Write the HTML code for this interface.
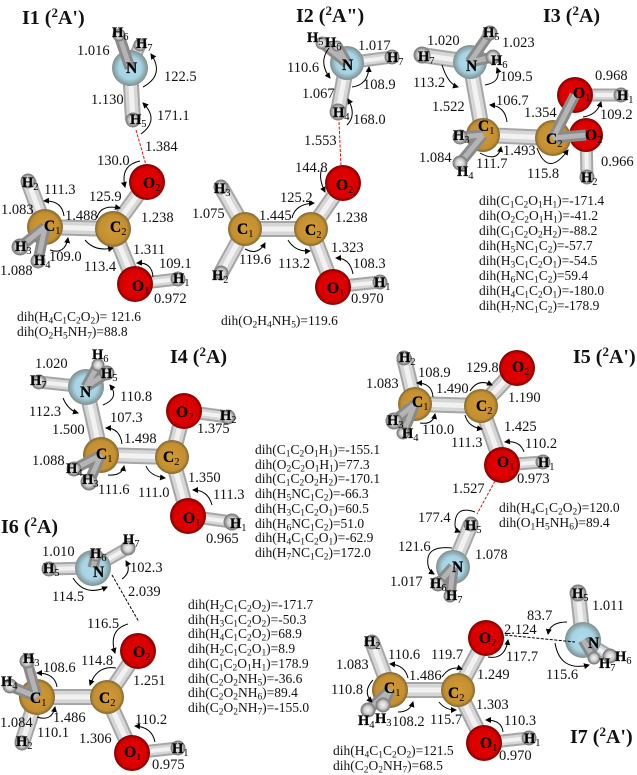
<!DOCTYPE html>
<html><head><meta charset="utf-8">
<style>
html,body{margin:0;padding:0;background:#fff}
#w{position:relative;width:637px;height:775px;overflow:hidden;background:#fff}
svg{position:absolute;left:0;top:0}
text{font-family:"Liberation Serif",serif;fill:#111}
.n text{font-size:14.5px}
.l text{font-size:15.5px;font-weight:bold;fill:#000;stroke:#000;stroke-width:.25px}
.l text.h{font-size:14.5px}
.s{font-size:10.5px;font-weight:normal;stroke-width:0}
.t text{font-size:20px;font-weight:bold}
.u{font-size:13px}
.d{position:absolute;font:13.5px/14.7px "Liberation Serif",serif;color:#111;white-space:pre}
.d sub{font-size:.7em;vertical-align:-.28em;line-height:0}
</style></head><body><div id="w">
<svg width="637" height="775" viewBox="0 0 637 775" xmlns="http://www.w3.org/2000/svg">
<defs>
<radialGradient id="c"><stop offset="0" stop-color="#d09a36"/><stop offset=".8" stop-color="#c48f30"/><stop offset="1" stop-color="#806732"/></radialGradient>
<radialGradient id="o"><stop offset="0" stop-color="#e80000"/><stop offset=".8" stop-color="#d80000"/><stop offset="1" stop-color="#7a0000"/></radialGradient>
<radialGradient id="a"><stop offset="0" stop-color="#aedcec"/><stop offset=".62" stop-color="#a6d4e4"/><stop offset="1" stop-color="#7f8e8e"/></radialGradient>
<radialGradient id="x"><stop offset="0" stop-color="#f4f4f4"/><stop offset=".55" stop-color="#cfcfcf"/><stop offset="1" stop-color="#777"/></radialGradient>
<marker id="m" markerWidth="6" markerHeight="6" refX="5" refY="3" orient="auto"><path d="M0 0L6 3L0 6z" fill="#000"/></marker>
<path id="hb" fill="none" d="M130 68L133 120M45 227L113 229M113 229L147 182M113 229L135 284M45 227L28 181M347 63L338 112M245 229L311 229M311 229L343 183M311 229L333 287M245 229L221 187M245 229L221 273M470 62L483 135M483 135L553 138M470 62L422 55M86 387L101 455M101 455L172 457M172 457L184 411M172 457L188 516M415 404L481 406M481 406L517 368M481 406L502 465M415 404L404 358M471 524L453 567M37 697L107 697M107 697L138 651M107 697L132 753M37 697L22 743M390 690L458 690M458 690L486 638M458 690L484 743M390 690L372 642M583 640L578 593"/>
<path id="lb" fill="none" d="M135 284L178 279M130 68L140 45M347 63L392 57M333 287L380 282M575 95L621 95M586 135L587 177M86 387L39 382M184 411L228 417M188 516L232 522M502 465L543 462M93 568L49 569M132 753L178 748M93 568L128 548M484 743L529 738M583 640L610 656"/>
<path id="fb" fill="none" d="M130 68L119 35M45 227L20 247M45 227L38 261M347 63L322 43M347 63L337 46M470 62L490 33M470 62L493 57M483 135L460 137M483 135L460 163M553 138L575 95M553 138L586 135M86 387L98 365M86 387L107 373M101 455L74 469M101 455L89 482M415 404L394 421M415 404L403 433M453 567L438 584M453 567L450 596M93 568L96 555M37 697L27 661M37 697L10 686M390 690L383 705M390 690L368 710M583 640L594 658"/>
</defs>

<use href="#hb" stroke="#a6a6a6" stroke-width="16"/><use href="#hb" stroke="#d6d6d6" stroke-width="12"/><use href="#hb" stroke="#f2f2f2" stroke-width="5"/>
<use href="#lb" stroke="#a6a6a6" stroke-width="13"/><use href="#lb" stroke="#d6d6d6" stroke-width="9"/><use href="#lb" stroke="#f2f2f2" stroke-width="4"/>

<g id="big">
<circle cx="130" cy="68" r="18" fill="url(#a)"/><circle cx="147" cy="182" r="18" fill="url(#o)"/><circle cx="113" cy="229" r="18" fill="url(#c)"/><circle cx="45" cy="227" r="18" fill="url(#c)"/><circle cx="135" cy="284" r="18" fill="url(#o)"/>
<circle cx="347" cy="63" r="17" fill="url(#a)"/><circle cx="343" cy="183" r="18" fill="url(#o)"/><circle cx="311" cy="229" r="17" fill="url(#c)"/><circle cx="245" cy="229" r="17" fill="url(#c)"/><circle cx="333" cy="287" r="18" fill="url(#o)"/>
<circle cx="470" cy="62" r="17" fill="url(#a)"/><circle cx="483" cy="135" r="17" fill="url(#c)"/><circle cx="586" cy="135" r="17" fill="url(#o)"/><circle cx="553" cy="138" r="18" fill="url(#c)"/><circle cx="575" cy="95" r="18" fill="url(#o)"/>
<circle cx="86" cy="387" r="18" fill="url(#a)"/><circle cx="101" cy="455" r="18" fill="url(#c)"/><circle cx="184" cy="411" r="18" fill="url(#o)"/><circle cx="172" cy="457" r="17" fill="url(#c)"/><circle cx="188" cy="516" r="18" fill="url(#o)"/>
<circle cx="415" cy="404" r="17" fill="url(#c)"/><circle cx="481" cy="406" r="17" fill="url(#c)"/><circle cx="517" cy="368" r="18" fill="url(#o)"/><circle cx="502" cy="465" r="18" fill="url(#o)"/><circle cx="453" cy="567" r="17" fill="url(#a)"/>
<circle cx="93" cy="568" r="18" fill="url(#a)"/><circle cx="138" cy="651" r="18" fill="url(#o)"/><circle cx="107" cy="697" r="17" fill="url(#c)"/><circle cx="37" cy="697" r="18" fill="url(#c)"/><circle cx="132" cy="753" r="18" fill="url(#o)"/>
<circle cx="390" cy="690" r="18" fill="url(#c)"/><circle cx="458" cy="690" r="17" fill="url(#c)"/><circle cx="486" cy="638" r="18" fill="url(#o)"/><circle cx="484" cy="743" r="18" fill="url(#o)"/><circle cx="583" cy="640" r="18" fill="url(#a)"/>
</g>

<use href="#fb" stroke="#8a8a8a" stroke-width="11"/><use href="#fb" stroke="#b4b4b4" stroke-width="5"/>

<g id="hyd" fill="url(#x)" stroke="#808080" stroke-width="1">
<circle cx="119" cy="35" r="6"/><circle cx="140" cy="45" r="6"/><circle cx="133" cy="120" r="7"/><circle cx="28" cy="181" r="7"/><circle cx="38" cy="261" r="7"/><circle cx="20" cy="247" r="8"/><circle cx="178" cy="279" r="7"/>
<circle cx="322" cy="43" r="6"/><circle cx="337" cy="46" r="5"/><circle cx="392" cy="57" r="7"/><circle cx="338" cy="112" r="8"/><circle cx="221" cy="187" r="7"/><circle cx="221" cy="273" r="7"/><circle cx="380" cy="282" r="7"/>
<circle cx="490" cy="33" r="7"/><circle cx="493" cy="57" r="7"/><circle cx="422" cy="55" r="8"/><circle cx="460" cy="137" r="7"/><circle cx="460" cy="163" r="7"/><circle cx="621" cy="95" r="7"/><circle cx="587" cy="177" r="7"/>
<circle cx="98" cy="365" r="6"/><circle cx="107" cy="373" r="7"/><circle cx="39" cy="382" r="7"/><circle cx="74" cy="469" r="7"/><circle cx="89" cy="482" r="8"/><circle cx="228" cy="417" r="7"/><circle cx="232" cy="522" r="8"/>
<circle cx="404" cy="358" r="7"/><circle cx="403" cy="433" r="6"/><circle cx="394" cy="421" r="8"/><circle cx="543" cy="462" r="7"/><circle cx="471" cy="524" r="7"/><circle cx="450" cy="596" r="6"/><circle cx="438" cy="584" r="7"/>
<circle cx="96" cy="555" r="6"/><circle cx="128" cy="548" r="7"/><circle cx="49" cy="569" r="7"/><circle cx="27" cy="661" r="7"/><circle cx="10" cy="686" r="7"/><circle cx="22" cy="743" r="7"/><circle cx="178" cy="748" r="7"/>
<circle cx="372" cy="642" r="7"/><circle cx="368" cy="710" r="7"/><circle cx="383" cy="705" r="7"/><circle cx="529" cy="738" r="7"/><circle cx="578" cy="593" r="8"/><circle cx="610" cy="656" r="7"/><circle cx="594" cy="658" r="6"/>
</g>

<g fill="none" stroke-width="1" stroke-dasharray="3 1.5">
<path stroke="#e01010" d="M136 130L146 165M339 122L341 166M495 481L477 514"/>
<path stroke="#000" d="M112 575L139 622M505 635L575 642"/>
</g>

<g fill="none" stroke="#000" stroke-width="1" marker-end="url(#m)">
<path d="M143 87Q165 75 151 54" marker-end="url(#m)"/><path d="M141 134Q160 120 143 103" marker-end="url(#m)"/><path d="M140 161Q120 165 125 187" marker-end="url(#m)"/><path d="M64 216Q62 200 44 201" marker-end="url(#m)"/><path d="M97 218Q100 204 120 208"/><path d="M50 250Q65 255 68 238" marker-end="url(#m)"/><path d="M85 240Q95 252 113 248" marker-end="url(#m)"/><path d="M153 277Q152 262 137 263" marker-end="url(#m)"/>
<path d="M329 48Q318 62 330 78" marker-end="url(#m)"/><path d="M352 87Q368 85 369 67" marker-end="url(#m)"/><path d="M347 125Q357 115 348 99" marker-end="url(#m)"/><path d="M322 168Q318 178 325 192" marker-end="url(#m)"/><path d="M292 218Q295 204 314 203"/><path d="M245 249Q258 256 265 243" marker-end="url(#m)"/><path d="M288 240Q295 252 310 251" marker-end="url(#m)"/><path d="M353 274Q350 258 336 258" marker-end="url(#m)"/>
<path d="M442 65Q448 84 458 87" marker-end="url(#m)"/><path d="M485 85Q502 82 497 68" marker-end="url(#m)"/><path d="M507 122Q505 106 490 105" marker-end="url(#m)"/><path d="M583 117Q597 115 601 102" marker-end="url(#m)"/><path d="M480 153Q498 163 501 147" marker-end="url(#m)"/><path d="M537 148Q548 178 568 150" marker-end="url(#m)"/>
<path d="M63 398Q68 410 78 413" marker-end="url(#m)"/><path d="M103 405Q120 398 110 385" marker-end="url(#m)"/><path d="M122 444Q120 428 106 428" marker-end="url(#m)"/><path d="M108 475Q122 476 124 466" marker-end="url(#m)"/><path d="M146 466Q150 476 165 478" marker-end="url(#m)"/><path d="M212 505Q208 490 193 490" marker-end="url(#m)"/>
<path d="M470 391Q478 378 492 385"/><path d="M433 397Q432 383 417 383" marker-end="url(#m)"/><path d="M420 423Q433 425 435 414" marker-end="url(#m)"/><path d="M465 415Q468 427 482 429" marker-end="url(#m)"/><path d="M524 452Q520 440 505 442" marker-end="url(#m)"/><path d="M475 512Q455 505 455 525Q455 530 460 532" marker-end="url(#m)"/><path d="M452 548Q425 545 428 565Q429 571 434 574" marker-end="url(#m)"/>
<path d="M122 579Q132 572 126 561" marker-end="url(#m)"/><path d="M73 578Q85 597 107 587" marker-end="url(#m)"/><path d="M128 624Q108 630 115 653" marker-end="url(#m)"/><path d="M116 668Q97 665 90 685" marker-end="url(#m)"/><path d="M57 687Q55 673 37 673" marker-end="url(#m)"/><path d="M37 717Q52 722 55 707" marker-end="url(#m)"/><path d="M155 742Q152 727 135 726" marker-end="url(#m)"/>
<path d="M567 622Q550 622 548 634" marker-end="url(#m)"/><path d="M488 657Q505 660 508 640" marker-end="url(#m)"/><path d="M555 643Q560 672 589 665" marker-end="url(#m)"/><path d="M442 677Q450 665 462 669"/><path d="M408 678Q405 665 390 664" marker-end="url(#m)"/><path d="M373 680Q362 692 372 702" marker-end="url(#m)"/><path d="M398 712Q410 712 413 702" marker-end="url(#m)"/><path d="M439 702Q445 710 456 710" marker-end="url(#m)"/><path d="M503 732Q502 720 486 720" marker-end="url(#m)"/>
</g>

<g class="l">
<text class="h" x="112" y="37">H<tspan class="s" dy="3">6</tspan></text><text class="h" x="136" y="48">H<tspan class="s" dy="3">7</tspan></text><text x="126" y="73">N</text><text class="h" x="130" y="124">H<tspan class="s" dy="3">5</tspan></text><text x="143" y="188">O<tspan class="s" dy="3">2</tspan></text><text x="110" y="232">C<tspan class="s" dy="3">2</tspan></text><text x="44" y="231">C<tspan class="s" dy="3">1</tspan></text><text class="h" x="22" y="187">H<tspan class="s" dy="3">2</tspan></text><text class="h" x="15" y="251">H<tspan class="s" dy="3">3</tspan></text><text class="h" x="34" y="265">H<tspan class="s" dy="3">4</tspan></text><text x="132" y="291">O<tspan class="s" dy="3">1</tspan></text><text class="h" x="173" y="283">H<tspan class="s" dy="3">1</tspan></text>
<text class="h" x="307" y="42">H<tspan class="s" dy="3">5</tspan></text><text class="h" x="325" y="47">H<tspan class="s" dy="3">6</tspan></text><text x="342" y="70">N</text><text class="h" x="387" y="62">H<tspan class="s" dy="3">7</tspan></text><text class="h" x="333" y="117">H<tspan class="s" dy="3">4</tspan></text><text x="336" y="190">O<tspan class="s" dy="3">2</tspan></text><text x="305" y="235">C<tspan class="s" dy="3">2</tspan></text><text x="237" y="234">C<tspan class="s" dy="3">1</tspan></text><text class="h" x="214" y="193">H<tspan class="s" dy="3">3</tspan></text><text class="h" x="212" y="280">H<tspan class="s" dy="3">2</tspan></text><text x="327" y="293">O<tspan class="s" dy="3">1</tspan></text><text class="h" x="374" y="287">H<tspan class="s" dy="3">1</tspan></text>
<text class="h" x="483" y="37">H<tspan class="s" dy="3">5</tspan></text><text class="h" x="491" y="65">H<tspan class="s" dy="3">6</tspan></text><text class="h" x="418" y="61">H<tspan class="s" dy="3">7</tspan></text><text x="466" y="71">N</text><text x="478" y="131">C<tspan class="s" dy="3">1</tspan></text><text class="h" x="453" y="140">H<tspan class="s" dy="3">3</tspan></text><text class="h" x="457" y="176">H<tspan class="s" dy="3">4</tspan></text><text x="546" y="144">C<tspan class="s" dy="3">2</tspan></text><text x="573" y="98">O<tspan class="s" dy="3">1</tspan></text><text class="h" x="617" y="100">H<tspan class="s" dy="3">1</tspan></text><text x="585" y="140">O<tspan class="s" dy="3">2</tspan></text><text class="h" x="581" y="182">H<tspan class="s" dy="3">2</tspan></text>
<text class="h" x="92" y="359">H<tspan class="s" dy="3">6</tspan></text><text class="h" x="101" y="378">H<tspan class="s" dy="3">5</tspan></text><text class="h" x="30" y="385">H<tspan class="s" dy="3">7</tspan></text><text x="80" y="397">N</text><text x="96" y="459">C<tspan class="s" dy="3">1</tspan></text><text class="h" x="66" y="473">H<tspan class="s" dy="3">4</tspan></text><text class="h" x="82" y="484">H<tspan class="s" dy="3">3</tspan></text><text x="163" y="462">C<tspan class="s" dy="3">2</tspan></text><text x="176" y="417">O<tspan class="s" dy="3">2</tspan></text><text class="h" x="220" y="420">H<tspan class="s" dy="3">2</tspan></text><text x="183" y="523">O<tspan class="s" dy="3">1</tspan></text><text class="h" x="230" y="528">H<tspan class="s" dy="3">1</tspan></text>
<text class="h" x="399" y="362">H<tspan class="s" dy="3">2</tspan></text><text x="412" y="407">C<tspan class="s" dy="3">1</tspan></text><text x="476" y="411">C<tspan class="s" dy="3">2</tspan></text><text x="512" y="372">O<tspan class="s" dy="3">2</tspan></text><text class="h" x="387" y="425">H<tspan class="s" dy="3">3</tspan></text><text class="h" x="402" y="438">H<tspan class="s" dy="3">4</tspan></text><text x="497" y="467">O<tspan class="s" dy="3">1</tspan></text><text class="h" x="538" y="467">H<tspan class="s" dy="3">1</tspan></text><text class="h" x="465" y="530">H<tspan class="s" dy="3">5</tspan></text><text x="452" y="572">N</text><text class="h" x="430" y="588">H<tspan class="s" dy="3">6</tspan></text><text class="h" x="446" y="600">H<tspan class="s" dy="3">7</tspan></text>
<text class="h" x="123" y="544">H<tspan class="s" dy="3">7</tspan></text><text class="h" x="90" y="558">H<tspan class="s" dy="3">6</tspan></text><text class="h" x="43" y="573">H<tspan class="s" dy="3">5</tspan></text><text x="93" y="577">N</text><text x="133" y="657">O<tspan class="s" dy="3">2</tspan></text><text x="99" y="703">C<tspan class="s" dy="3">2</tspan></text><text x="30" y="703">C<tspan class="s" dy="3">1</tspan></text><text class="h" x="23" y="663">H<tspan class="s" dy="3">3</tspan></text><text class="h" x="1" y="686">H<tspan class="s" dy="3">4</tspan></text><text class="h" x="16" y="746">H<tspan class="s" dy="3">2</tspan></text><text x="124" y="757">O<tspan class="s" dy="3">1</tspan></text><text class="h" x="172" y="753">H<tspan class="s" dy="3">1</tspan></text>
<text class="h" x="364" y="646">H<tspan class="s" dy="3">2</tspan></text><text class="h" x="572" y="598">H<tspan class="s" dy="3">5</tspan></text><text x="479" y="643">O<tspan class="s" dy="3">2</tspan></text><text x="588" y="648">N</text><text class="h" x="615" y="661">H<tspan class="s" dy="3">6</tspan></text><text class="h" x="599" y="668">H<tspan class="s" dy="3">7</tspan></text><text x="384" y="693">C<tspan class="s" dy="3">1</tspan></text><text x="448" y="698">C<tspan class="s" dy="3">2</tspan></text><text class="h" x="358" y="725">H<tspan class="s" dy="3">4</tspan></text><text class="h" x="375" y="723">H<tspan class="s" dy="3">3</tspan></text><text x="480" y="748">O<tspan class="s" dy="3">1</tspan></text><text class="h" x="524" y="743">H<tspan class="s" dy="3">1</tspan></text>
</g>

<g class="n">
<text x="77" y="55">1.016</text><text x="164" y="81">122.5</text><text x="91" y="104">1.130</text><text x="157" y="120">171.1</text><text x="145" y="151">1.384</text><text x="97" y="165">130.0</text><text x="44" y="194">111.3</text><text x="89" y="201">125.9</text><text x="1" y="214">1.083</text><text x="65" y="220">1.488</text><text x="141" y="222">1.238</text><text x="133" y="254">1.311</text><text x="49" y="261">109.0</text><text x="159" y="268">109.1</text><text x="84" y="271">113.4</text><text x="0" y="275">1.088</text><text x="154" y="303">0.972</text>
<text x="358" y="50">1.017</text><text x="287" y="72">110.6</text><text x="363" y="89">108.9</text><text x="302" y="98">1.067</text><text x="353" y="124">168.0</text><text x="304" y="145">1.553</text><text x="295" y="172">144.8</text><text x="280" y="202">125.2</text><text x="259" y="220">1.445</text><text x="335" y="222">1.238</text><text x="192" y="218">1.075</text><text x="239" y="264">119.6</text><text x="278" y="268">113.2</text><text x="331" y="252">1.323</text><text x="353" y="268">108.3</text><text x="351" y="303">0.970</text>
<text x="427" y="45">1.020</text><text x="502" y="47">1.023</text><text x="595" y="80">0.968</text><text x="500" y="81">109.5</text><text x="413" y="87">113.2</text><text x="496" y="105">106.7</text><text x="432" y="111">1.522</text><text x="524" y="117">1.354</text><text x="600" y="119">109.2</text><text x="503" y="155">1.493</text><text x="419" y="162">1.084</text><text x="601" y="166">0.966</text><text x="476" y="168">111.7</text><text x="527" y="178">115.8</text>
<text x="35" y="368">1.020</text><text x="120" y="401">110.8</text><text x="29" y="416">112.3</text><text x="110" y="422">107.3</text><text x="197" y="433">1.375</text><text x="52" y="434">1.500</text><text x="124" y="443">1.498</text><text x="32" y="465">1.088</text><text x="188" y="482">1.350</text><text x="213" y="499">111.3</text><text x="98" y="494">111.6</text><text x="138" y="497">111.0</text><text x="206" y="543">0.965</text>
<text x="466" y="372">129.8</text><text x="418" y="377">108.9</text><text x="366" y="388">1.083</text><text x="436" y="393">1.490</text><text x="508" y="402">1.190</text><text x="504" y="431">1.425</text><text x="422" y="434">110.0</text><text x="451" y="447">111.3</text><text x="525" y="448">110.2</text><text x="517" y="483">0.973</text><text x="452" y="493">1.527</text><text x="418" y="522">177.4</text><text x="398" y="551">121.6</text><text x="475" y="559">1.078</text><text x="390" y="586">1.017</text>
<text x="42" y="556">1.010</text><text x="130" y="572">102.3</text><text x="128" y="596">2.039</text><text x="52" y="601">114.5</text><text x="87" y="628">116.5</text><text x="81" y="665">114.8</text><text x="43" y="672">108.6</text><text x="133" y="685">1.251</text><text x="53" y="722">1.486</text><text x="0" y="727">1.084</text><text x="135" y="724">110.2</text><text x="37" y="737">110.1</text><text x="79" y="743">1.306</text><text x="152" y="769">0.975</text>
<text x="592" y="610">1.011</text><text x="527" y="620">83.7</text><text x="504" y="634">2.124</text><text x="506" y="661">117.7</text><text x="431" y="659">119.7</text><text x="388" y="659">110.6</text><text x="336" y="669">1.083</text><text x="546" y="679">115.6</text><text x="409" y="680">1.486</text><text x="477" y="679">1.249</text><text x="331" y="694">110.8</text><text x="476" y="709">1.303</text><text x="392" y="726">108.2</text><text x="430" y="724">115.7</text><text x="504" y="725">110.3</text><text x="499" y="760">0.970</text>
</g>

<g class="t">
<text x="22" y="24">I1 (<tspan class="u" dy="-7">2</tspan><tspan dy="7">A')</tspan></text>
<text x="296" y="22">I2 (<tspan class="u" dy="-7">2</tspan><tspan dy="7">A")</tspan></text>
<text x="543" y="22">I3 (<tspan class="u" dy="-7">2</tspan><tspan dy="7">A)</tspan></text>
<text x="170" y="363">I4 (<tspan class="u" dy="-7">2</tspan><tspan dy="7">A)</tspan></text>
<text x="573" y="363">I5 (<tspan class="u" dy="-7">2</tspan><tspan dy="7">A')</tspan></text>
<text x="1" y="533">I6 (<tspan class="u" dy="-7">2</tspan><tspan dy="7">A)</tspan></text>
<text x="570" y="743">I7 (<tspan class="u" dy="-7">2</tspan><tspan dy="7">A')</tspan></text>
</g>
</svg>

<div class="d" style="left:17px;top:310px">dih(H<sub>4</sub>C<sub>1</sub>C<sub>2</sub>O<sub>2</sub>)= 121.6
dih(O<sub>2</sub>H<sub>5</sub>NH<sub>7</sub>)=88.8</div>
<div class="d" style="left:221px;top:314px">dih(O<sub>2</sub>H<sub>4</sub>NH<sub>5</sub>)=119.6</div>
<div class="d" style="left:479px;top:193px;line-height:15px">dih(C<sub>1</sub>C<sub>2</sub>O<sub>1</sub>H<sub>1</sub>)=-171.4
dih(O<sub>2</sub>C<sub>2</sub>O<sub>1</sub>H<sub>1</sub>)=-41.2
dih(C<sub>1</sub>C<sub>2</sub>O<sub>2</sub>H<sub>2</sub>)=-88.2
dih(H<sub>5</sub>NC<sub>1</sub>C<sub>2</sub>)=-57.7
dih(H<sub>3</sub>C<sub>1</sub>C<sub>2</sub>O<sub>1</sub>)=-54.5
dih(H<sub>6</sub>NC<sub>1</sub>C<sub>2</sub>)=59.4
dih(H<sub>4</sub>C<sub>1</sub>C<sub>2</sub>O<sub>1</sub>)=-180.0
dih(H<sub>7</sub>NC<sub>1</sub>C<sub>2</sub>)=-178.9</div>
<div class="d" style="left:255px;top:443px">dih(C<sub>1</sub>C<sub>2</sub>O<sub>1</sub>H<sub>1</sub>)=-155.1
dih(O<sub>2</sub>C<sub>2</sub>O<sub>1</sub>H<sub>1</sub>)=77.3
dih(C<sub>1</sub>C<sub>2</sub>O<sub>2</sub>H<sub>2</sub>)=-170.1
dih(H<sub>5</sub>NC<sub>1</sub>C<sub>2</sub>)=-66.3
dih(H<sub>3</sub>C<sub>1</sub>C<sub>2</sub>O<sub>1</sub>)=60.5
dih(H<sub>6</sub>NC<sub>1</sub>C<sub>2</sub>)=51.0
dih(H<sub>4</sub>C<sub>1</sub>C<sub>2</sub>O<sub>1</sub>)=-62.9
dih(H<sub>7</sub>NC<sub>1</sub>C<sub>2</sub>)=172.0</div>
<div class="d" style="left:499px;top:501px">dih(H<sub>4</sub>C<sub>1</sub>C<sub>2</sub>O<sub>2</sub>)=120.0
dih(O<sub>1</sub>H<sub>5</sub>NH<sub>6</sub>)=89.4</div>
<div class="d" style="left:188px;top:598px">dih(H<sub>2</sub>C<sub>1</sub>C<sub>2</sub>O<sub>2</sub>)=-171.7
dih(H<sub>3</sub>C<sub>1</sub>C<sub>2</sub>O<sub>2</sub>)=-50.3
dih(H<sub>4</sub>C<sub>1</sub>C<sub>2</sub>O<sub>2</sub>)=68.9
dih(H<sub>2</sub>C<sub>1</sub>C<sub>2</sub>O<sub>1</sub>)=8.9
dih(C<sub>1</sub>C<sub>2</sub>O<sub>1</sub>H<sub>1</sub>)=178.9
dih(C<sub>2</sub>O<sub>2</sub>NH<sub>5</sub>)=-36.6
dih(C<sub>2</sub>O<sub>2</sub>NH<sub>6</sub>)=89.4
dih(C<sub>2</sub>O<sub>2</sub>NH<sub>7</sub>)=-155.0</div>
<div class="d" style="left:333px;top:744px">dih(H<sub>4</sub>C<sub>1</sub>C<sub>2</sub>O<sub>2</sub>)=121.5
dih(C<sub>2</sub>O<sub>2</sub>NH<sub>7</sub>)=68.5</div>
</div></body></html>
